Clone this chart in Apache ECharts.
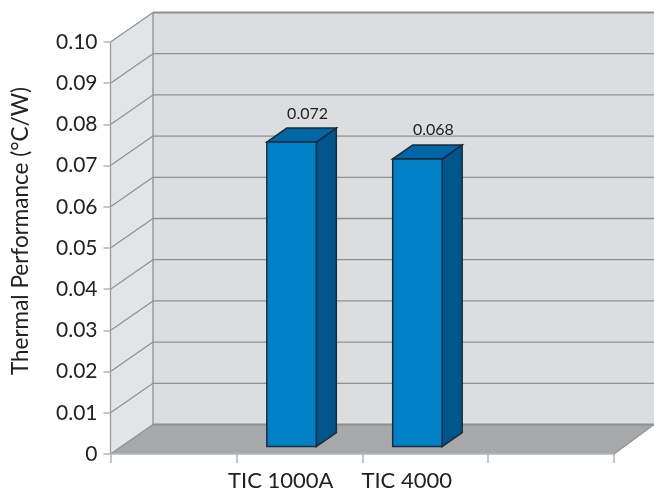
<!DOCTYPE html>
<html><head><meta charset="utf-8">
<style>html,body{margin:0;padding:0;background:#fff}#c{width:654px;height:492px}</style>
<script src="https://cdn.jsdelivr.net/npm/echarts@6/dist/echarts.min.js"></script>
</head><body><div id="c"></div>
<script>
const categories = ['', 'TIC 1000A', 'TIC 4000', ''];
const barCategoryIndex = [1, 2];
const barHeights = [0.0739, 0.0698];
const barLabels = ['0.072', '0.068'];
const yTicks = [0, 0.01, 0.02, 0.03, 0.04, 0.05, 0.06, 0.07, 0.08, 0.09, 0.10];
const yName = 'Thermal Performance (°C/W)';

const FONT = 'Lato';
const DX = 42.5, DY = -29.5;      // wall depth
const BAR_W = 49.5, BAR_SHIFT = -7.75, BAR_LIFT = 7.5, BAR_DX = 20, BAR_DY = -14;
const LINE = '#8f9092';

const chart = echarts.init(document.getElementById('c'), null, {renderer: 'canvas'});

function poly(points, fill, stroke, lw) {
  return {type: 'polygon', shape: {points}, style: {fill, stroke: stroke || 'none', lineWidth: lw || 0, lineJoin: 'miter'}};
}
function seg(x1, y1, x2, y2, stroke, lw) {
  return {type: 'line', shape: {x1, y1, x2, y2}, style: {stroke, lineWidth: lw}};
}

function renderWalls(params, api) {
  const cs = params.coordSys;
  const L = cs.x, R = cs.x + cs.width, B = cs.y + cs.height, T = cs.y;
  const kids = [
    poly([[L, T], [L + DX, T + DY], [L + DX, B + DY], [L, B]], '#e3e4e5'),
    poly([[L + DX, T + DY], [654, T + DY], [654, B + DY], [L + DX, B + DY]], '#dcdddf'),
    poly([[L, B], [L + DX, B + DY], [654, B + DY], [R, B]], '#a7a8aa')
  ];
  yTicks.forEach((v, i) => {
    const y = api.coord([0, v])[1];
    const lw = (i === yTicks.length - 1) ? 2 : (i === 0 ? 2 : 1.3);
    kids.push(seg(L, y, L + DX, y + DY, LINE, 1.2));
    kids.push(seg(L + DX, y + DY, 654, y + DY, LINE, lw));
  });
  kids.push(seg(L, T, L, B, '#9a9b9d', 1.3));
  kids.push(seg(L + DX, T + DY, L + DX, B + DY, LINE, 1.3));
  kids.push(seg(R, B, 654, B + DY, LINE, 1.2));
  return {type: 'group', children: kids};
}

function renderBar(params, api) {
  const c = api.coord([api.value(0), api.value(1)]);
  const base = api.coord([api.value(0), 0])[1] - BAR_LIFT;
  const x0 = c[0] + BAR_SHIFT - BAR_W / 2, x1 = x0 + BAR_W;
  const yt = c[1] - BAR_LIFT;
  const edge = '#1d2b36';
  return {type: 'group', children: [
    poly([[x1, yt], [x1 + BAR_DX, yt + BAR_DY], [x1 + BAR_DX, base + BAR_DY], [x1, base]], '#00558c', edge, 1.5),
    poly([[x0, yt], [x0 + BAR_DX, yt + BAR_DY], [x1 + BAR_DX, yt + BAR_DY], [x1, yt]], '#0067a7', edge, 1.5),
    poly([[x0, yt], [x1, yt], [x1, base], [x0, base]], '#0080c6', edge, 1.5),
    {type: 'text', style: {
      text: barLabels[params.dataIndex], x: x0 + BAR_W / 2 + 16, y: yt - 28 - params.dataIndex,
      fill: '#222', font: '16px ' + FONT, textAlign: 'center', textVerticalAlign: 'middle'
    }}
  ]};
}

chart.setOption({
  animation: false,
  backgroundColor: '#fff',
  grid: {left: 110.5, right: 40, top: 42, bottom: 38, outerBoundsMode: 'none'},
  xAxis: {
    type: 'category', data: categories, z: 5,
    axisLine: {show: true, lineStyle: {color: '#b4b5b7', width: 1.5}},
    axisTick: {show: true, alignWithLabel: false, length: 9, lineStyle: {color: '#b4b5b7', width: 1.5}},
    axisLabel: {interval: 0, color: '#222', fontFamily: FONT, fontSize: 22, margin: 16, padding: [0, 37, 0, 0]}
  },
  yAxis: {
    type: 'value', min: 0, max: 0.1, interval: 0.01, z: 5,
    name: yName, nameLocation: 'middle', nameGap: 78, nameRotate: 90,
    nameTextStyle: {color: '#222', fontFamily: FONT, fontSize: 22.5, padding: [0, 0, 0, 34]},
    splitLine: {show: false},
    axisLine: {show: false},
    axisTick: {show: true, length: 7, lineStyle: {color: '#b4b5b7', width: 1.5}},
    axisLabel: {color: '#222', fontFamily: FONT, fontSize: 21, margin: 13,
      formatter: v => v === 0 ? '0' : v.toFixed(2)}
  },
  series: [
    {type: 'custom', coordinateSystem: 'cartesian2d', z: 1, silent: true, renderItem: renderWalls, data: [[0, 0]]},
    {type: 'custom', coordinateSystem: 'cartesian2d', z: 3, silent: true, renderItem: renderBar,
      encode: {x: 0, y: 1},
      data: barCategoryIndex.map((c, i) => [c, barHeights[i]])}
  ]
});
</script></body></html>
